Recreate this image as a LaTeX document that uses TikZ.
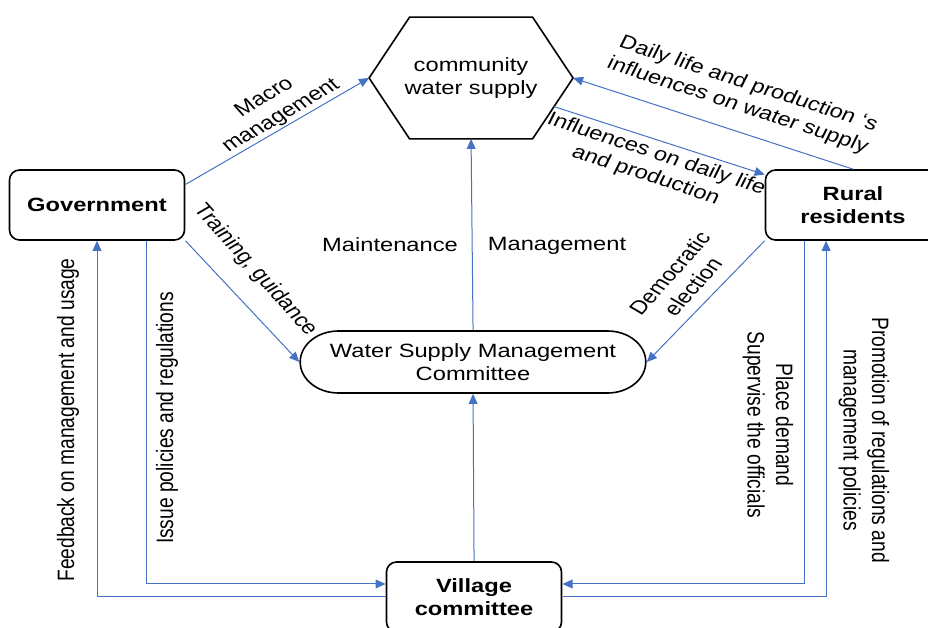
\documentclass[tikz,border=0pt]{standalone}
\usepackage{fontspec}
\setmainfont{Liberation Sans}
\usepackage{tikz}
\usepackage{xcolor}
\usetikzlibrary{calc}
\usetikzlibrary{shapes.misc}
\usetikzlibrary{arrows.meta, positioning}

\definecolor{linkblue}{HTML}{4472C4}

\begin{document}
\begin{tikzpicture}[x=0.4052pt, y=-0.5pt, xscale=1.234,
		every node/.style={transform shape, align=center, font=\fontsize{9.6}{11.5}\selectfont},
		actor/.style={draw, line width=0.8pt, rectangle, rounded corners=5pt, minimum width=70.9pt, minimum height=35pt, font=\fontsize{9.6}{11.5}\selectfont\bfseries},
		link/.style={linkblue, line width=0.5pt, -{Triangle[length=5pt, width=4.4pt]}}]
		\useasboundingbox (0,0) rectangle (928,628);
		\clip (0,0) rectangle (928,628);
		
		\node[minimum width=82.25pt, minimum height=60.5pt] at (471,78) (cws) {community\\water supply};
		\draw[line width=0.8pt] (cws.west) -- ($(cws.north west)+(40.5,0)$) -- ($(cws.north east)+(-40.5,0)$) -- (cws.east)
			-- ($(cws.south east)+(-40.5,0)$) -- ($(cws.south west)+(40.5,0)$) -- cycle;
		\coordinate (cwsout) at ($(cws.east)!0.47!($(cws.south east)+(-40.5,0)$)$);
		
		\node[actor] at (97,205) (gov) {Government};
		\node[actor] at (853,205) (rural) {Rural\\residents};
		\node[rounded rectangle, draw, line width=0.8pt, minimum width=146.7pt, minimum height=31pt] at (473,362) (wsmc) {Water Supply Management\\Committee};
		\node[actor] at (474,597) (village) {Village\\committee};
		
		\path[link] (gov.16) edge (cws.west);
		\path[link] (gov.south east) edge (wsmc.west);
		\path[link] (rural.south west) edge (wsmc.east);
		\path[link] (cwsout) edge (rural.157);
		\path[link] (rural.north) edge (cws.east);
		\path[link] (wsmc.north) edge (cws.south);
		\path[link] (village.north) edge (wsmc.south);
		
		\draw[link] (village.west) -| (gov.south);
		\draw[link] ($(gov.south)+(49,0)$) |- ($(village.west)+(0,-13)$);
		\draw[link] ($(rural.south)+(-49,0)$) |- ($(village.east)+(0,-13)$);
		\draw[link] (village.east) -| ($(rural.south)+(-27,0)$);
		
		% labels on the relations
		\node[rotate=36] at (273,107) (lmacro) {Macro\\management};
		\node[rotate=-54] at (255,270) (ltrain) {Training, guidance};
		\node at (390,245) (lmaint) {Maintenance};
		\node at (557,246) (lmanage) {Management};
		\node[rotate=54] at (681,280) (lelect) {Democratic\\election};
		\node[rotate=-22] at (651,165) (linfl) {Influences on daily life\\and production};
		\node[rotate=-22] at (743,95) (ldaily) {Daily life and production `s\\influences on water supply};
		\node[rotate=90] at (68,420) (lfeed) {Feedback on management and usage};
		\node[rotate=90] at (167,418) (lissue) {Issue policies and regulations};
		\node[rotate=-90] at (768,425) (lplace) {Place demand\\Supervise the officials};
		\node[rotate=-90] at (864,440) (lpromo) {Promotion of regulations and\\management policies};
	\end{tikzpicture}
\end{document}
